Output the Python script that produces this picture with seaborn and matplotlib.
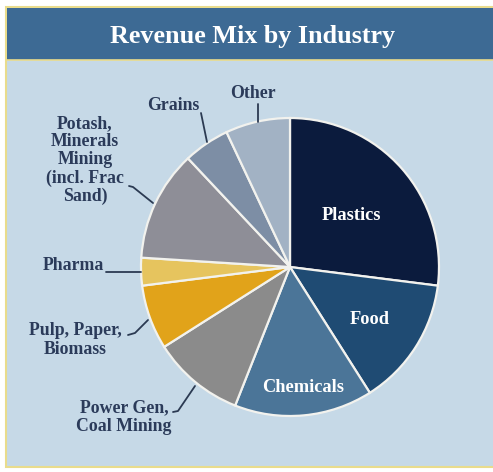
import matplotlib
matplotlib.use("Agg")
import matplotlib.pyplot as plt
import seaborn as sns
from matplotlib.patches import Rectangle

# ---- data ----
industries = ["Plastics", "Food", "Chemicals", "Power Gen,\nCoal Mining",
              "Pulp, Paper,\nBiomass", "Pharma",
              "Potash,\nMinerals\nMining\n(incl. Frac\nSand)", "Grains", "Other"]
shares = [27, 14, 15, 10, 7, 3, 12, 5, 7]
slice_colors = ["#0b1b3d", "#1f4b73", "#4b7598", "#8b8b8b", "#e1a31a",
                "#e6c45e", "#8e8e97", "#7d8ea5", "#a2b2c4"]
title = "Revenue Mix by Industry"

sns.set_theme(style="white")
plt.rcParams["font.family"] = ["Liberation Serif", "DejaVu Serif"]

W, H = 493, 472
fig = plt.figure(figsize=(W / 100, H / 100), dpi=100)
fig.patch.set_facecolor("white")
ax = fig.add_axes([0, 0, 1, 1])

# pie (y inverted, so clockwise visually = counterclock in data coords)
cx, cy, R = 290, 267, 149
wedges, _ = ax.pie(shares, colors=slice_colors, startangle=-90, counterclock=True,
                   center=(cx, cy), radius=R, frame=True,
                   wedgeprops=dict(edgecolor="#f2f2ee", linewidth=1.6))
for w in wedges:
    w.set_zorder(4)
ax.set_xlim(0, W)
ax.set_ylim(H, 0)
ax.set_aspect("equal")
ax.axis("off")

# frame, panel and header
ax.add_patch(Rectangle((6, 7), W, 460, facecolor="#c6d9e7", edgecolor="#e9dc8c", lw=1.5, zorder=0))
ax.add_patch(Rectangle((7, 8), W, 52, facecolor="#3d6a94", edgecolor="none", zorder=1))
ax.plot([7, W], [60, 60], color="#e9dc8c", lw=1.2, zorder=2)
ax.text(253, 36, title, ha="center", va="center", color="white",
        fontsize=18.8, fontweight="bold", zorder=3)

# inside labels
inside = {0: (351, 215), 1: (370, 320), 2: (303, 388)}
for i, (x, y) in inside.items():
    ax.text(x, y, industries[i], ha="center", va="center", color="white",
            fontsize=13.2, fontweight="bold", zorder=6)

text_color = "#2b3b5a"
line_color = "#2b3a52"
outside = {
    8: ((253, 93), [(258, 104), (258, 122)]),
    7: ((173, 105), [(201, 113), (207, 142)]),
    6: ((85, 160), [(129, 186), (133, 187), (153, 203)]),
    5: ((73, 266), [(106, 272), (141, 272)]),
    4: ((75, 340), [(128, 335), (135, 333), (148, 320)]),
    3: ((124, 417), [(173, 412), (178, 411), (195, 386)]),
}
for i, ((x, y), pts) in outside.items():
    ax.text(x, y, industries[i], ha="center", va="center", color=text_color,
            fontsize=12.8, fontweight="bold", linespacing=1.08, zorder=6)
    xs, ys = zip(*pts)
    ax.plot(xs, ys, color=line_color, lw=1.3, zorder=5)

fig.savefig("out.png", dpi=100)
